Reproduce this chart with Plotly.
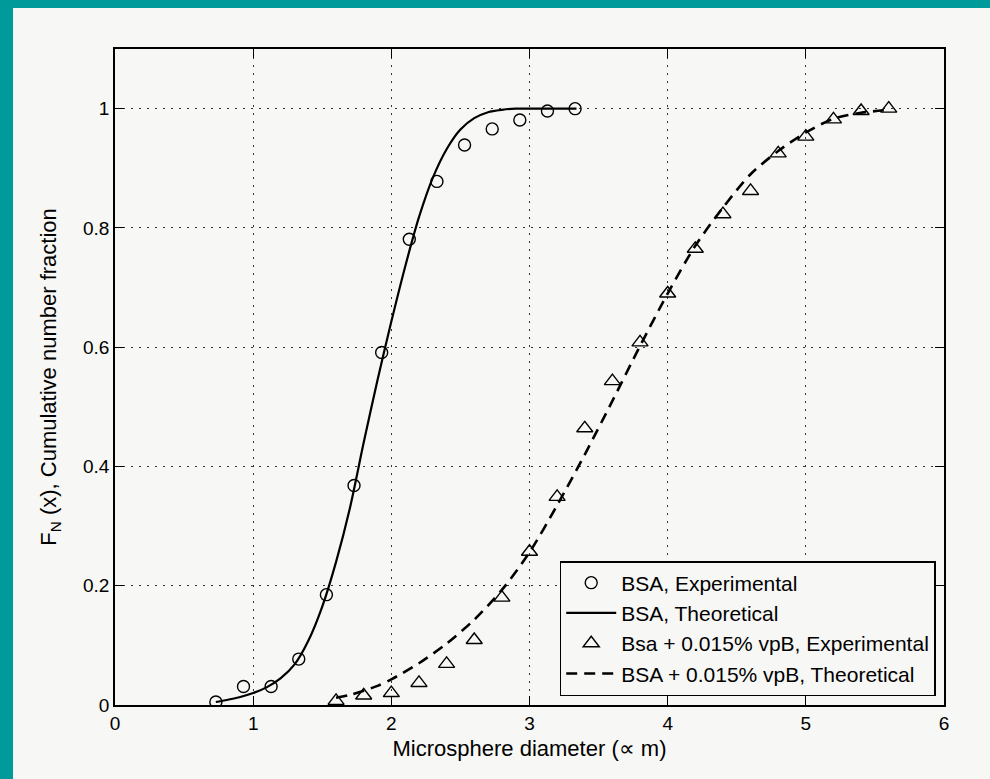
import plotly.graph_objects as go

# ---- data ----
bsa_exp_x = [0.73, 0.93, 1.13, 1.33, 1.53, 1.73, 1.93, 2.13, 2.33, 2.53, 2.73, 2.93, 3.13, 3.33]
bsa_exp_y = [0.005, 0.031, 0.031, 0.077, 0.185, 0.368, 0.591, 0.781, 0.878, 0.939, 0.966, 0.981, 0.996, 1.0]

bsa_th_x = [0.73, 0.8, 0.9, 1.0, 1.1, 1.2, 1.3, 1.4, 1.5, 1.6, 1.7, 1.8, 1.9, 2.0,
            2.1, 2.2, 2.3, 2.4, 2.5, 2.6, 2.7, 2.8, 2.9, 3.0, 3.2, 3.34]
bsa_th_y = [0.005, 0.008, 0.013, 0.020, 0.030, 0.045, 0.068, 0.108, 0.165, 0.24, 0.33, 0.44,
            0.545, 0.643, 0.735, 0.818, 0.884, 0.932, 0.965, 0.984, 0.994, 0.998, 1.0, 1.0, 1.0, 1.0]

vpb_exp_x = [1.6, 1.8, 2.0, 2.2, 2.4, 2.6, 2.8, 3.0, 3.2, 3.4, 3.6, 3.8, 4.0, 4.2,
             4.4, 4.6, 4.8, 5.0, 5.2, 5.4, 5.6]
vpb_exp_y = [0.007, 0.016, 0.020, 0.037, 0.069, 0.109, 0.180, 0.257, 0.349, 0.464, 0.543,
             0.608, 0.690, 0.765, 0.823, 0.862, 0.925, 0.953, 0.982, 0.996, 1.0]

vpb_th_x = [1.6, 1.7, 1.8, 1.9, 2.0, 2.2, 2.4, 2.6, 2.8, 3.0, 3.2, 3.4, 3.6, 3.8,
            4.0, 4.2, 4.4, 4.6, 4.8, 5.0, 5.2, 5.4, 5.6]
vpb_th_y = [0.012, 0.017, 0.024, 0.032, 0.043, 0.070, 0.103, 0.143, 0.193, 0.256, 0.335,
            0.42, 0.51, 0.602, 0.69, 0.77, 0.834, 0.89, 0.929, 0.96, 0.983, 0.993, 0.998]

x_ticks = [0, 1, 2, 3, 4, 5, 6]
y_ticks = [0, 0.2, 0.4, 0.6, 0.8, 1.0]
y_ticktext = ["0", "0.2", "0.4", "0.6", "0.8", "1"]

names = ["BSA, Experimental", "BSA, Theoretical",
         "Bsa + 0.015% vpB, Experimental", "BSA + 0.015% vpB, Theoretical"]

FONT = "'Liberation Sans', Arial, Helvetica, sans-serif"
BG = "#f7f7f5"
TEAL = "#009a9a"

fig = go.Figure()
fig.add_trace(go.Scatter(x=bsa_exp_x, y=bsa_exp_y, mode="markers", name=names[0],
                         marker=dict(symbol="circle-open", size=12, color="black",
                                     line=dict(width=1.4, color="black"))))
fig.add_trace(go.Scatter(x=bsa_th_x, y=bsa_th_y, mode="lines", name=names[1],
                         line=dict(color="black", width=2.2, shape="spline", smoothing=0.8)))
fig.add_trace(go.Scatter(x=vpb_exp_x, y=vpb_exp_y, mode="markers", name=names[2],
                         marker=dict(symbol="triangle-up-open", size=14, color="black",
                                     line=dict(width=1.4, color="black"))))
fig.add_trace(go.Scatter(x=vpb_th_x, y=vpb_th_y, mode="lines", name=names[3],
                         line=dict(color="black", width=2.6, dash="11px,7px",
                                   shape="spline", smoothing=0.8)))

axis_common = dict(
    showline=True, linecolor="black", linewidth=1.5, mirror="ticks",
    ticks="inside", ticklen=9, tickwidth=1.2, tickcolor="black",
    showgrid=True, gridcolor="#333333", gridwidth=1.3, griddash="2px,6px",
    zeroline=False, tickfont=dict(family=FONT, size=19, color="black"),
)

fig.update_xaxes(range=[0, 6], tickvals=x_ticks, automargin=False,
                 title=dict(text="Microsphere diameter (\u221d m)",
                            font=dict(family=FONT, size=22, color="black"), standoff=8),
                 **axis_common)
fig.update_yaxes(range=[0, 1.1], tickvals=y_ticks, ticktext=y_ticktext, automargin=False,
                 title=dict(text="F<sub>N</sub> (x), Cumulative number fraction",
                            font=dict(family=FONT, size=22, color="black"), standoff=20),
                 **axis_common)

fig.update_layout(
    width=990, height=779,
    margin=dict(l=115, r=46, t=49, b=74),
    paper_bgcolor=BG, plot_bgcolor=BG,
    font=dict(family=FONT, color="black"),
    showlegend=True,
    legend=dict(x=0.99, y=0.0137, xanchor="right", yanchor="bottom",
                bgcolor=BG, bordercolor="black", borderwidth=1.5,
                font=dict(family=FONT, size=21, color="black"),
                tracegroupgap=0, itemwidth=50),
    shapes=[
        dict(type="rect", xref="paper", yref="paper",
             x0=-0.1388, x1=-0.1230, y0=-0.115, y1=1.0747,
             fillcolor=TEAL, line=dict(width=0), layer="above"),
        dict(type="rect", xref="paper", yref="paper",
             x0=-0.1388, x1=1.0560, y0=1.0625, y1=1.0747,
             fillcolor=TEAL, line=dict(width=0), layer="above"),
    ],
)

fig.write_html("out.html")
